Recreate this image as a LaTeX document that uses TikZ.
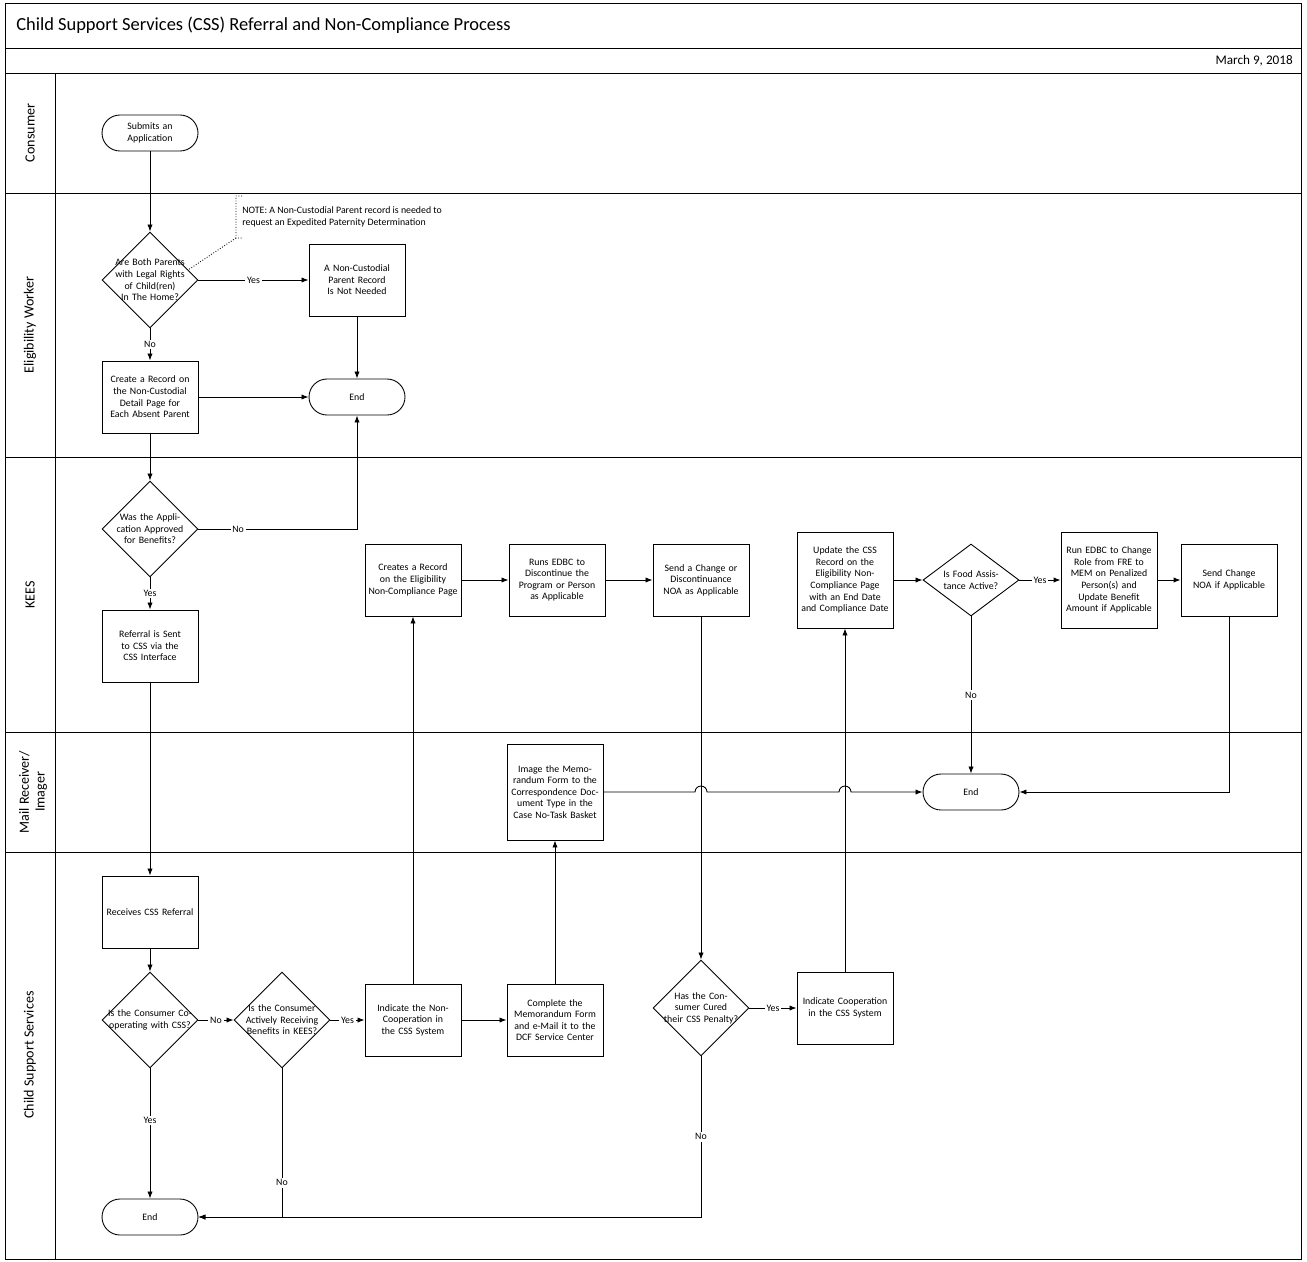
\documentclass[tikz,border=0pt]{standalone}
\usepackage{fontspec}
\setmainfont{Carlito}
\usepackage{tikz}
\usetikzlibrary{shapes.geometric}
\usetikzlibrary{arrows.meta}

\tikzset{
  txt/.style={font=\fontsize{5.6}{6.6}\selectfont, align=center, text width=1.8cm, inner sep=0pt},
  proc/.style={draw, rectangle, minimum width=1.92cm, minimum height=1.44cm, txt},
  term/.style={draw, rectangle, rounded corners=0.36cm, minimum width=1.92cm, minimum height=0.72cm, txt},
  dec/.style={draw, diamond, minimum width=1.92cm, minimum height=1.92cm, inner sep=0pt},
  lbl/.style={font=\fontsize{5.6}{6.6}\selectfont, fill=white, inner sep=1pt},
  lane/.style={font=\fontsize{8}{9}\selectfont, rotate=90},
  flow/.style={-{Latex[length=4pt,width=3pt]}}
}

\begin{document}
\begin{tikzpicture}[x=0.02cm, y=-0.02cm, line width=0.5pt]
  \useasboundingbox (0,0) rectangle (1307,1261);
  % The frame and the lanes
  \draw (5,3) rectangle (1301,1259);
  \draw (5,48) -- (1301,48) (5,73) -- (1301,73);
  \foreach \y in {193,457,732,852} \draw (5,\y) -- (1301,\y);
  \draw (55,73) -- (55,1259);
  \node[anchor=west, font=\fontsize{10.5}{12}\selectfont] (title) at (10,25) {Child Support Services (CSS) Referral and Non-Compliance Process};
  \node[anchor=east, font=\fontsize{7.5}{9}\selectfont] (date) at (1299,61) {March 9, 2018};
  \node[lane] (l1) at (30,133) {Consumer};
  \node[lane] (l2) at (30,325) {Eligibility Worker};
  \node[lane] (l3) at (30,595) {KEES};
  \node[lane, align=center] (l4) at (33,792) {Mail Receiver/\\Imager};
  \node[lane] (l5) at (30,1055) {Child Support Services};

  % The nodes
  \node[term] (submit) at (150,133) {Submits an Application};
  \node[dec, label={[txt]center:Are Both Parents with Legal Rights of Child(ren) In The Home?}] (q1) at (150,280) {};
  \node[proc] (notneed) at (357,280) {A Non-Custodial Parent Record Is Not Needed};
  \node[proc] (create) at (150,397) {Create a Record on the Non-Custodial Detail Page for Each Absent Parent};
  \node[term] (end1) at (357,397) {End};
  \node[dec, label={[txt]center:Was the Application Approved for Benefits?}] (q2) at (150,529) {};
  \node[proc] (referral) at (150,646) {Referral is Sent to CSS via the CSS Interface};
  \node[proc] (creates) at (413,580) {Creates a Record on the Eligibility Non-Compliance Page};
  \node[proc] (runs) at (557,580) {Runs EDBC to Discontinue the Program or Person as Applicable};
  \node[proc] (sendchg) at (701,580) {Send a Change or Discontinuance NOA as Applicable};
  \node[proc, minimum height=1.92cm] (update) at (845,580) {Update the CSS Record on the Eligibility Non-Compliance Page with an End Date and Compliance Date};
  \node[dec, minimum height=1.44cm, label={[txt]center:Is Food Assistance Active?}] (q3) at (971,580) {};
  \node[proc, minimum height=1.92cm] (runedbc) at (1109,580) {Run EDBC to Change Role from FRE to MEM on Penalized Person(s) and Update Benefit Amount if Applicable};
  \node[proc] (sendnoa) at (1229,580) {Send Change NOA if Applicable};
  \node[proc, minimum height=1.92cm] (image) at (555,792) {Image the Memorandum Form to the Correspondence Document Type in the Case No-Task Basket};
  \node[term] (end2) at (971,792) {End};
  \node[proc] (receives) at (150,912) {Receives CSS Referral};
  \node[dec, label={[txt]center:Is the Consumer Cooperating with CSS?}] (q4) at (150,1020) {};
  \node[dec, label={[txt]center:Is the Consumer Actively Receiving Benefits in KEES?}] (q5) at (282,1020) {};
  \node[proc] (indnon) at (413,1020) {Indicate the Non-Cooperation in the CSS System};
  \node[proc] (complete) at (555,1020) {Complete the Memorandum Form and e-Mail it to the DCF Service Center};
  \node[dec, label={[txt]center:Has the Consumer Cured their CSS Penalty?}] (q6) at (701,1008) {};
  \node[proc] (indcoop) at (845,1008) {Indicate Cooperation in the CSS System};
  \node[term] (end3) at (150,1217) {End};

  % The note
  \draw[densely dotted] (242,196) -- (236,196) -- (236,238) -- (242,238) (236,238) -- (188,270);
  \node[anchor=west, align=left, font=\fontsize{5.6}{6.6}\selectfont] (note) at (236,217) {NOTE: A Non-Custodial Parent record is needed to\\request an Expedited Paternity Determination};

  % The connectors
  \draw[flow] (submit) -- (q1);
  \draw[flow] (q1) -- node[lbl] {Yes} (notneed);
  \draw[flow] (q1) -- node[lbl, pos=0.5] {No} (create);
  \draw[flow] (notneed) -- (end1);
  \draw[flow] (create) -- (end1);
  \draw[flow] (create) -- (q2);
  \draw[flow] (q2.east) -- node[lbl, pos=0.25] {No} (end1.south |- q2.east) -- (end1.south);
  \draw[flow] (q2) -- node[lbl] {Yes} (referral);
  \draw[flow] (referral) -- (receives);
  \draw[flow] (receives) -- (q4);
  \draw[flow] (q4) -- node[lbl] {No} (q5);
  \draw[flow] (q5) -- node[lbl] {Yes} (indnon);
  \draw[flow] (q5.south) -- node[lbl, pos=0.77] {No} (q5.south |- end3.east) -- (end3.east);
  \draw[flow] (q4) -- node[lbl, pos=0.4] {Yes} (end3);
  \draw[flow] (indnon) -- (creates);
  \draw[flow] (indnon) -- (complete);
  \draw[flow] (complete) -- (image);
  \draw[flow] (image.east) -- (695,792) arc (180:360:6) -- (839,792) arc (180:360:6) -- (end2.west);
  \draw[flow] (creates) -- (runs);
  \draw[flow] (runs) -- (sendchg);
  \draw[flow] (sendchg) -- (q6);
  \draw[flow] (q6) -- node[lbl] {Yes} (indcoop);
  \draw[flow] (q6.south) -- node[lbl, pos=0.5] {No} (q6.south |- end3.east) -- (end3.east);
  \draw[flow] (indcoop) -- (update);
  \draw[flow] (update) -- (q3);
  \draw[flow] (q3) -- node[lbl] {Yes} (runedbc);
  \draw[flow] (runedbc) -- (sendnoa);
  \draw[flow] (sendnoa.south) -- (sendnoa.south |- end2.east) -- (end2.east);
  \draw[flow] (q3) -- node[lbl, pos=0.5] {No} (end2);
\end{tikzpicture}
\end{document}
